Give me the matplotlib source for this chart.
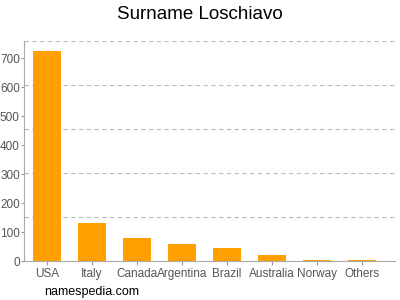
import matplotlib.pyplot as plt

plt.rcParams["font.family"] = ["Liberation Sans", "DejaVu Sans"]

countries = ["USA", "Italy", "Canada", "Argentina", "Brazil", "Australia", "Norway", "Others"]
counts = [725, 131, 79, 59, 45, 20, 2, 3]
yticks = [0, 100, 200, 300, 400, 500, 600, 700]

ymax = 760
grid_lines = [ymax * k / 5 for k in range(1, 6)]

fig = plt.figure(figsize=(4, 3), dpi=100)
ax = fig.add_axes([0.06, 0.13, 0.9275, 0.733])

for g in grid_lines:
    ax.axhline(g, color="#bbbbbb", linestyle=(0, (4, 3)), linewidth=0.8, zorder=0)

ax.bar(range(len(countries)), counts, width=0.62, color="#ffa000", zorder=2)

ax.set_xlim(-0.51, 7.73)
ax.set_ylim(0, ymax)
ax.set_xticks(range(len(countries)))
ax.set_xticklabels(countries)
ax.set_yticks(yticks)
ax.tick_params(labelsize=8.5, length=3, width=0.8)
ax.tick_params(axis="x", colors="#999999", labelcolor="#555555", pad=2)
ax.tick_params(axis="y", colors="#999999", labelcolor="#555555", pad=0.5, length=2.5)
for s in ["top", "right"]:
    ax.spines[s].set_visible(False)
for s in ["left", "bottom"]:
    ax.spines[s].set_color("#aaaaaa")
    ax.spines[s].set_linewidth(0.8)

fig.text(0.5, 0.953, "Surname Loschiavo", ha="center", va="center", fontsize=13.5)
fig.text(0.11, 0.027, "namespedia.com", ha="left", va="center", fontsize=9)

fig.savefig("out.png", dpi=100)
